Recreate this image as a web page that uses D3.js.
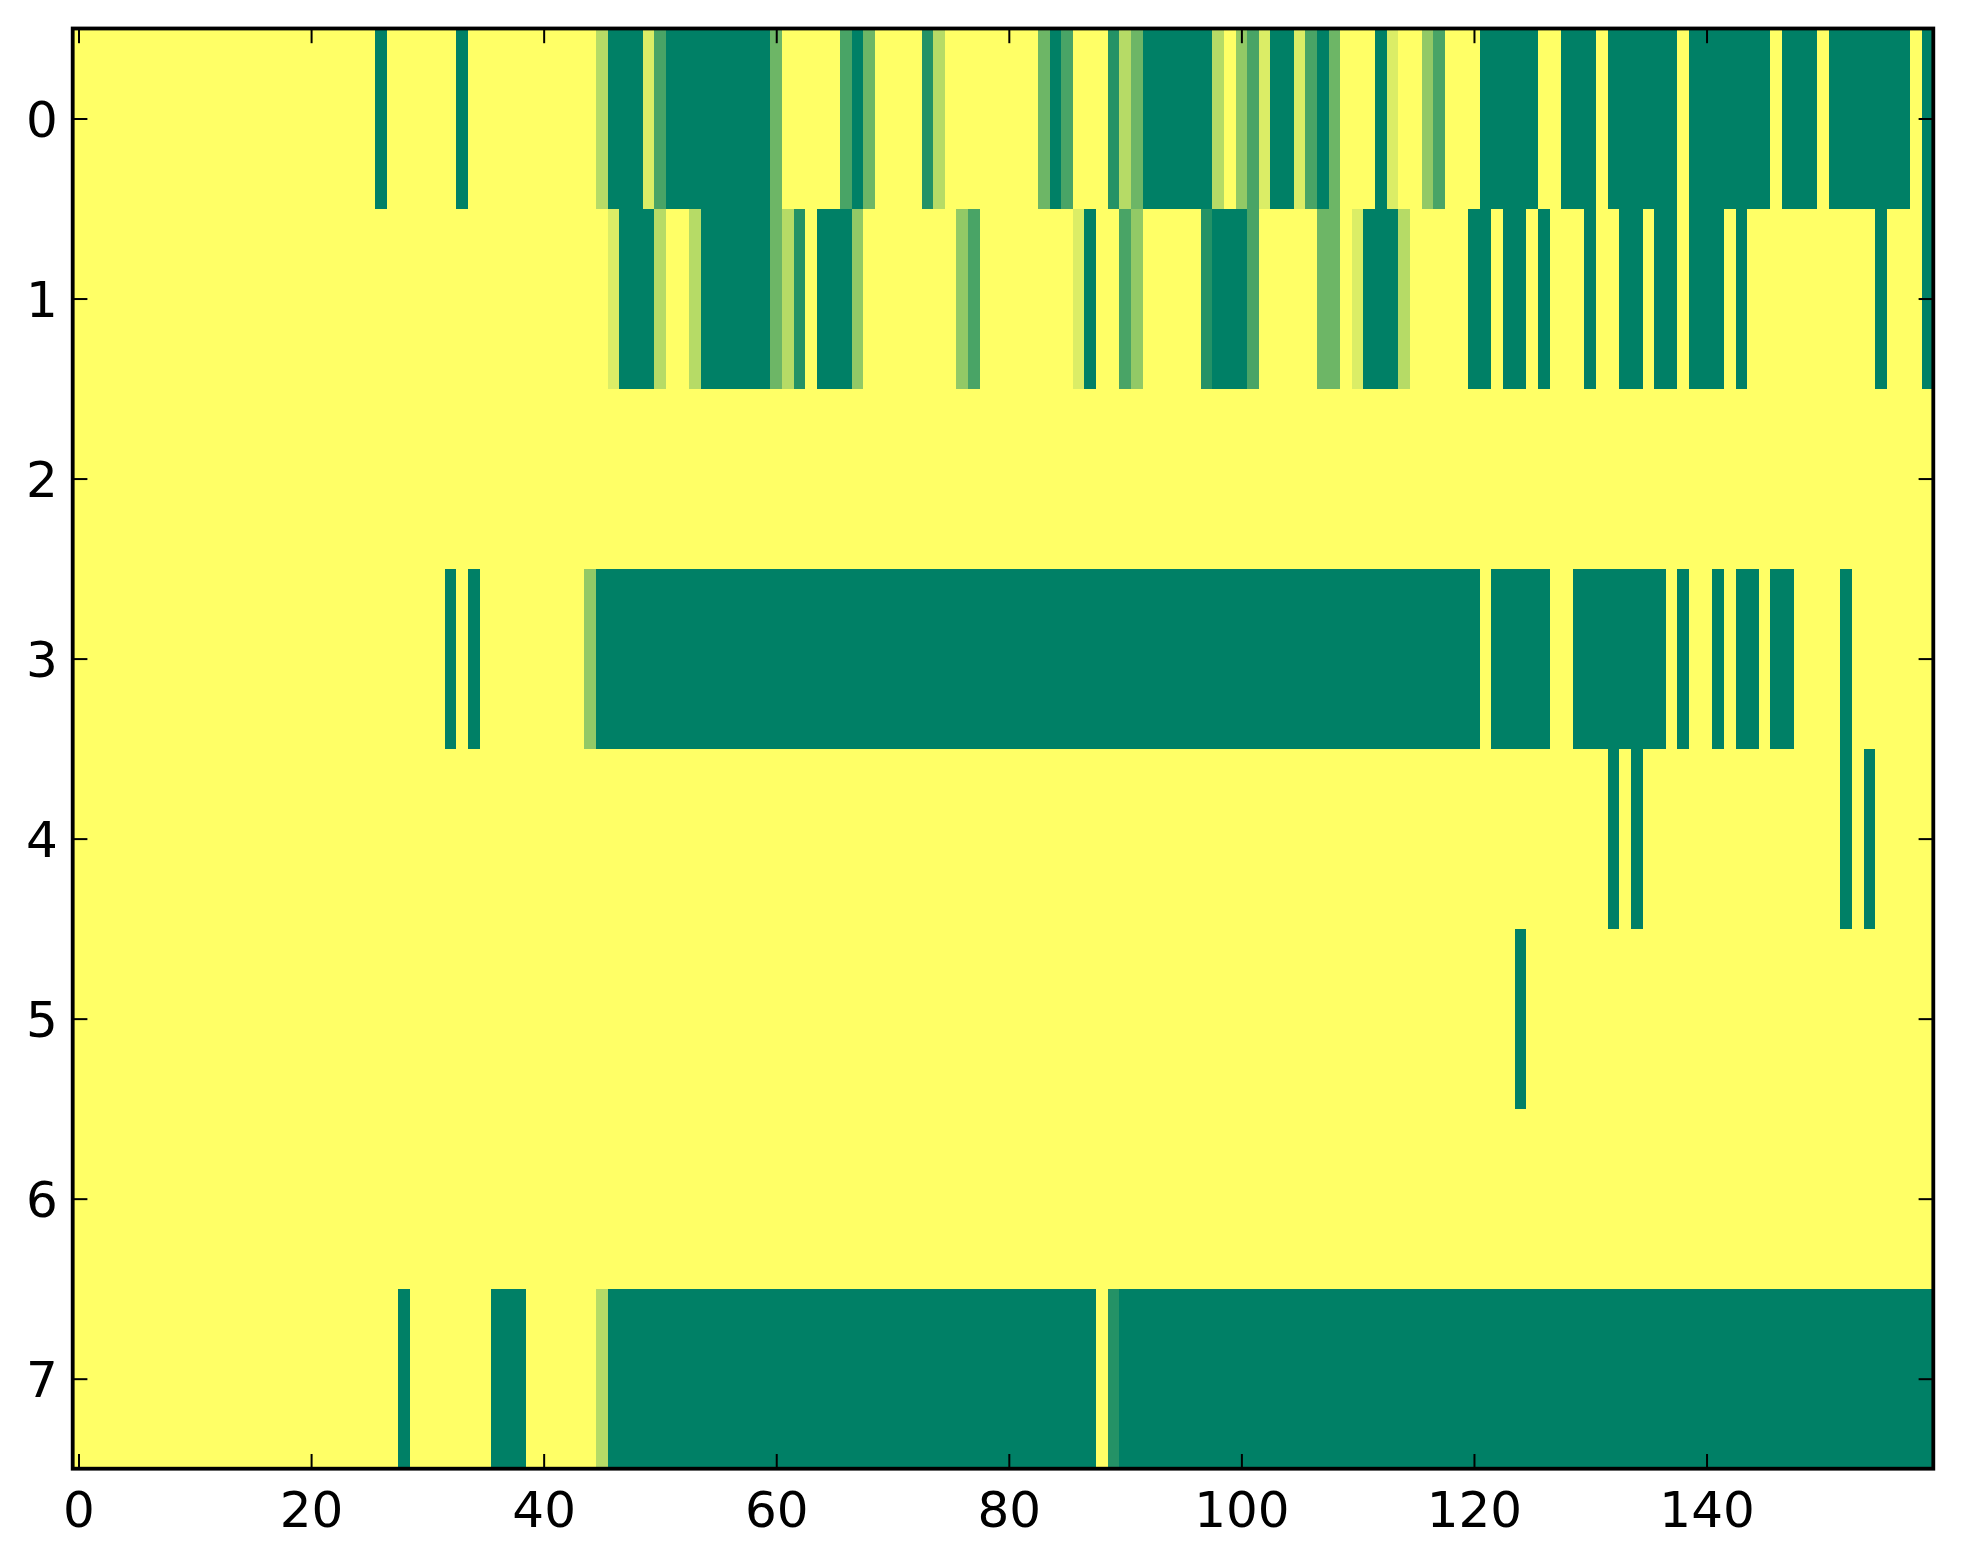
<!DOCTYPE html>
<html>
<head>
<meta charset="utf-8">
<script src="https://cdn.jsdelivr.net/npm/d3@7"></script>
<style>
  body { margin: 0; background: #fff; }
  svg { display: block; }
  .tick text { font-family: "DejaVu Sans", sans-serif; font-size: 50px; fill: #000; }
</style>
</head>
<body>
<div id="chart"></div>
<script>
// cell values in sevenths (0 = empty ... 7 = full), one string per row, 160 columns
var row0 = "0000000000 0000000000 0000007000 0007000000 0000027771 5777777777 4000005740 0006200000 0004750006 2477777720 3517715740 0071003500 0777770077 7077777707 7777770777 0777777707";
var row1 = "0000000000 0000000000 0000000000 0000000000 0000001777 2002777777 4260777300 0000003500 0000001700 5300000677 7500000440 1777200000 7707707000 7007707707 7707000000 0000070007";
var row2 = "0000000000 0000000000 0000000000 0000000000 0000000000 0000000000 0000000000 0000000000 0000000000 0000000000 0000000000 0000000000 0000000000 0000000000 0000000000 0000000000";
var row3 = "0000000000 0000000000 0000000000 0070700000 0000377777 7777777777 7777777777 7777777777 7777777777 7777777777 7777777777 7777777777 7077777007 7777777070 0707707700 0070000000";
var row4 = "0000000000 0000000000 0000000000 0000000000 0000000000 0000000000 0000000000 0000000000 0000000000 0000000000 0000000000 0000000000 0000000000 0070700000 0000000000 0070700000";
var row5 = "0000000000 0000000000 0000000000 0000000000 0000000000 0000000000 0000000000 0000000000 0000000000 0000000000 0000000000 0000000000 0000700000 0000000000 0000000000 0000000000";
var row6 = "0000000000 0000000000 0000000000 0000000000 0000000000 0000000000 0000000000 0000000000 0000000000 0000000000 0000000000 0000000000 0000000000 0000000000 0000000000 0000000000";
var row7 = "0000000000 0000000000 0000000070 0000007770 0000027777 7777777777 7777777777 7777777777 7777777706 7777777777 7777777777 7777777777 7777777777 7777777777 7777777777 7777777777";

var rows = [row0, row1, row2, row3, row4, row5, row6, row7];
var xTicks = [0, 20, 40, 60, 80, 100, 120, 140];
var yTicks = [0, 1, 2, 3, 4, 5, 6, 7];

var margin = {top: 28.5, right: 29.7, bottom: 95.3, left: 72.7},
    width = 1963 - margin.left - margin.right,
    height = 1564 - margin.top - margin.bottom;

var svg = d3.select("#chart").append("svg")
    .attr("width", 1963)
    .attr("height", 1564)
  .append("g")
    .attr("transform", "translate(" + margin.left + "," + margin.top + ")");

// parse the rows into cells
var cells = [];
rows.forEach(function(r, ri) {
    r.replace(/ /g, "").split("").forEach(function(ch, ci) {
        cells.push({row: ri, col: ci, value: +ch / 7});
    });
});

var nCols = 160;
var x = d3.scaleLinear().domain([-0.5, nCols - 0.5]).range([0, width]);
var y = d3.scaleLinear().domain([-0.5, rows.length - 0.5]).range([0, height]);

// summer_r colormap
var color = d3.scaleLinear().domain([0, 1]).range(["#ffff66", "#008066"]).interpolate(d3.interpolateRgb);

svg.append("g")
    .selectAll("rect")
    .data(cells)
    .enter().append("rect")
    .attr("x", function(d) { return x(d.col - 0.5); })
    .attr("y", function(d) { return y(d.row - 0.5); })
    .attr("width", function(d) { return x(d.col + 0.5) - x(d.col - 0.5); })
    .attr("height", function(d) { return y(d.row + 0.5) - y(d.row - 0.5); })
    .attr("shape-rendering", "crispEdges")
    .style("fill", function(d) { return color(d.value); });

var tickLen = 14.7;

var bottomAxis = svg.append("g")
    .attr("transform", "translate(0," + height + ")")
    .call(d3.axisBottom(x).tickValues(xTicks).tickSizeInner(-tickLen).tickSizeOuter(0).tickPadding(23));
var topAxis = svg.append("g")
    .call(d3.axisTop(x).tickValues(xTicks).tickSizeInner(-tickLen).tickSizeOuter(0).tickFormat(""));
var leftAxis = svg.append("g")
    .call(d3.axisLeft(y).tickValues(yTicks).tickSizeInner(-tickLen).tickSizeOuter(0).tickPadding(15));
var rightAxis = svg.append("g")
    .attr("transform", "translate(" + width + ",0)")
    .call(d3.axisRight(y).tickValues(yTicks).tickSizeInner(-tickLen).tickSizeOuter(0).tickFormat(""));

[bottomAxis, topAxis, leftAxis, rightAxis].forEach(function(a) {
    a.select(".domain").remove();
    a.selectAll(".tick line").attr("stroke", "#000").attr("stroke-width", 2);
});
leftAxis.selectAll(".tick text").attr("dy", "0.36em");

// frame
svg.append("rect")
    .attr("width", width)
    .attr("height", height)
    .attr("fill", "none")
    .attr("stroke", "#000")
    .attr("stroke-width", 3.8);
</script>
</body>
</html>
